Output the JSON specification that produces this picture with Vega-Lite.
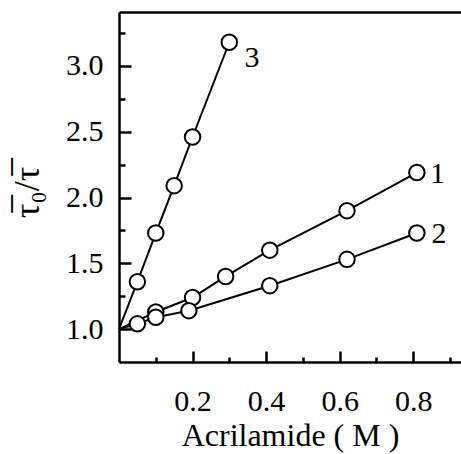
{
  "$schema": "https://vega.github.io/schema/vega-lite/v6.json",
  "width": 342,
  "height": 350,
  "autosize": {"type": "none"},
  "padding": {"left": 119, "top": 12, "right": 0, "bottom": 92},
  "background": "white",
  "config": {
    "view": {"stroke": null},
    "font": "Liberation Serif",
    "axis": {
      "domainColor": "black",
      "domainWidth": 2.5,
      "tickColor": "black",
      "tickWidth": 2.5,
      "labelColor": "black",
      "labelFont": "Liberation Serif",
      "labelFontSize": 30,
      "titleColor": "black",
      "titleFont": "Liberation Serif",
      "titleFontSize": 32,
      "titleFontWeight": "normal",
      "grid": false
    }
  },
  "datasets": {
    "series": [
      {"x": 0, "y": 1.0, "s": "1"},
      {"x": 0.1, "y": 1.13, "s": "1"},
      {"x": 0.2, "y": 1.24, "s": "1"},
      {"x": 0.29, "y": 1.40, "s": "1"},
      {"x": 0.41, "y": 1.60, "s": "1"},
      {"x": 0.62, "y": 1.90, "s": "1"},
      {"x": 0.81, "y": 2.19, "s": "1"},
      {"x": 0, "y": 1.0, "s": "2"},
      {"x": 0.05, "y": 1.04, "s": "2"},
      {"x": 0.1, "y": 1.09, "s": "2"},
      {"x": 0.19, "y": 1.14, "s": "2"},
      {"x": 0.41, "y": 1.33, "s": "2"},
      {"x": 0.62, "y": 1.53, "s": "2"},
      {"x": 0.81, "y": 1.73, "s": "2"},
      {"x": 0, "y": 1.0, "s": "3"},
      {"x": 0.05, "y": 1.36, "s": "3"},
      {"x": 0.1, "y": 1.73, "s": "3"},
      {"x": 0.15, "y": 2.09, "s": "3"},
      {"x": 0.2, "y": 2.46, "s": "3"},
      {"x": 0.3, "y": 3.18, "s": "3"}
    ],
    "labels": [
      {"x": 0.362, "y": 3.06, "t": "3"},
      {"x": 0.866, "y": 2.18, "t": "1"},
      {"x": 0.870, "y": 1.72, "t": "2"}
    ]
  },
  "resolve": {"axis": {"x": "independent", "y": "independent"}},
  "layer": [
    {
      "data": {"name": "series"},
      "mark": {"type": "line", "color": "black", "strokeWidth": 2},
      "encoding": {
        "x": {
          "field": "x", "type": "quantitative",
          "scale": {"domain": [0, 0.93], "nice": false, "zero": false},
          "axis": {
            "orient": "bottom",
            "values": [0.2, 0.4, 0.6, 0.8],
            "format": ".1f",
            "ticks": false,
            "labelPadding": 24,
            "title": "Acrilamide ( M )",
            "titlePadding": 4
          }
        },
        "y": {
          "field": "y", "type": "quantitative",
          "scale": {"domain": [0.75, 3.41], "nice": false, "zero": false},
          "axis": {
            "orient": "left",
            "values": [1, 1.5, 2, 2.5, 3],
            "format": ".1f",
            "ticks": false,
            "labelPadding": 16,
            "title": "τ̅₀/τ̅",
            "titleFontSize": 36,
            "titleAngle": -90,
            "titleAlign": "center",
            "titleBaseline": "middle",
            "titleX": -92,
            "titleY": 180
          }
        },
        "detail": {"field": "s"}
      }
    },
    {
      "data": {"name": "series"},
      "transform": [{"filter": "datum.x > 0"}],
      "mark": {"type": "point", "shape": "circle", "filled": false, "fill": "white", "fillOpacity": 1, "stroke": "black", "strokeWidth": 2, "size": 240, "opacity": 1},
      "encoding": {
        "x": {
          "field": "x", "type": "quantitative",
          "axis": {
            "orient": "bottom",
            "values": [0.2, 0.4, 0.6, 0.8],
            "labels": false,
            "domain": false,
            "title": null,
            "tickSize": -11
          }
        },
        "y": {
          "field": "y", "type": "quantitative",
          "axis": {
            "orient": "left",
            "values": [1, 1.5, 2, 2.5, 3],
            "labels": false,
            "domain": false,
            "title": null,
            "tickSize": -12
          }
        }
      }
    },
    {
      "data": {"name": "labels"},
      "mark": {"type": "text", "font": "Liberation Serif", "fontSize": 30, "color": "black", "align": "center", "baseline": "middle"},
      "encoding": {
        "x": {
          "field": "x", "type": "quantitative",
          "axis": {
            "orient": "bottom",
            "values": [0.1, 0.3, 0.5, 0.7, 0.9],
            "labels": false,
            "domain": false,
            "title": null,
            "tickSize": -5
          }
        },
        "y": {
          "field": "y", "type": "quantitative",
          "axis": {
            "orient": "left",
            "values": [1.25, 1.75, 2.25, 2.75, 3.25],
            "labels": false,
            "domain": false,
            "title": null,
            "tickSize": -6
          }
        },
        "text": {"field": "t"}
      }
    },
    {
      "data": {"name": "labels"},
      "mark": {"type": "text", "opacity": 0},
      "encoding": {
        "x": {
          "field": "x", "type": "quantitative",
          "axis": {
            "orient": "top",
            "labels": false,
            "ticks": false,
            "title": null
          }
        },
        "y": {"field": "y", "type": "quantitative", "axis": null},
        "text": {"field": "t"}
      }
    }
  ]
}
